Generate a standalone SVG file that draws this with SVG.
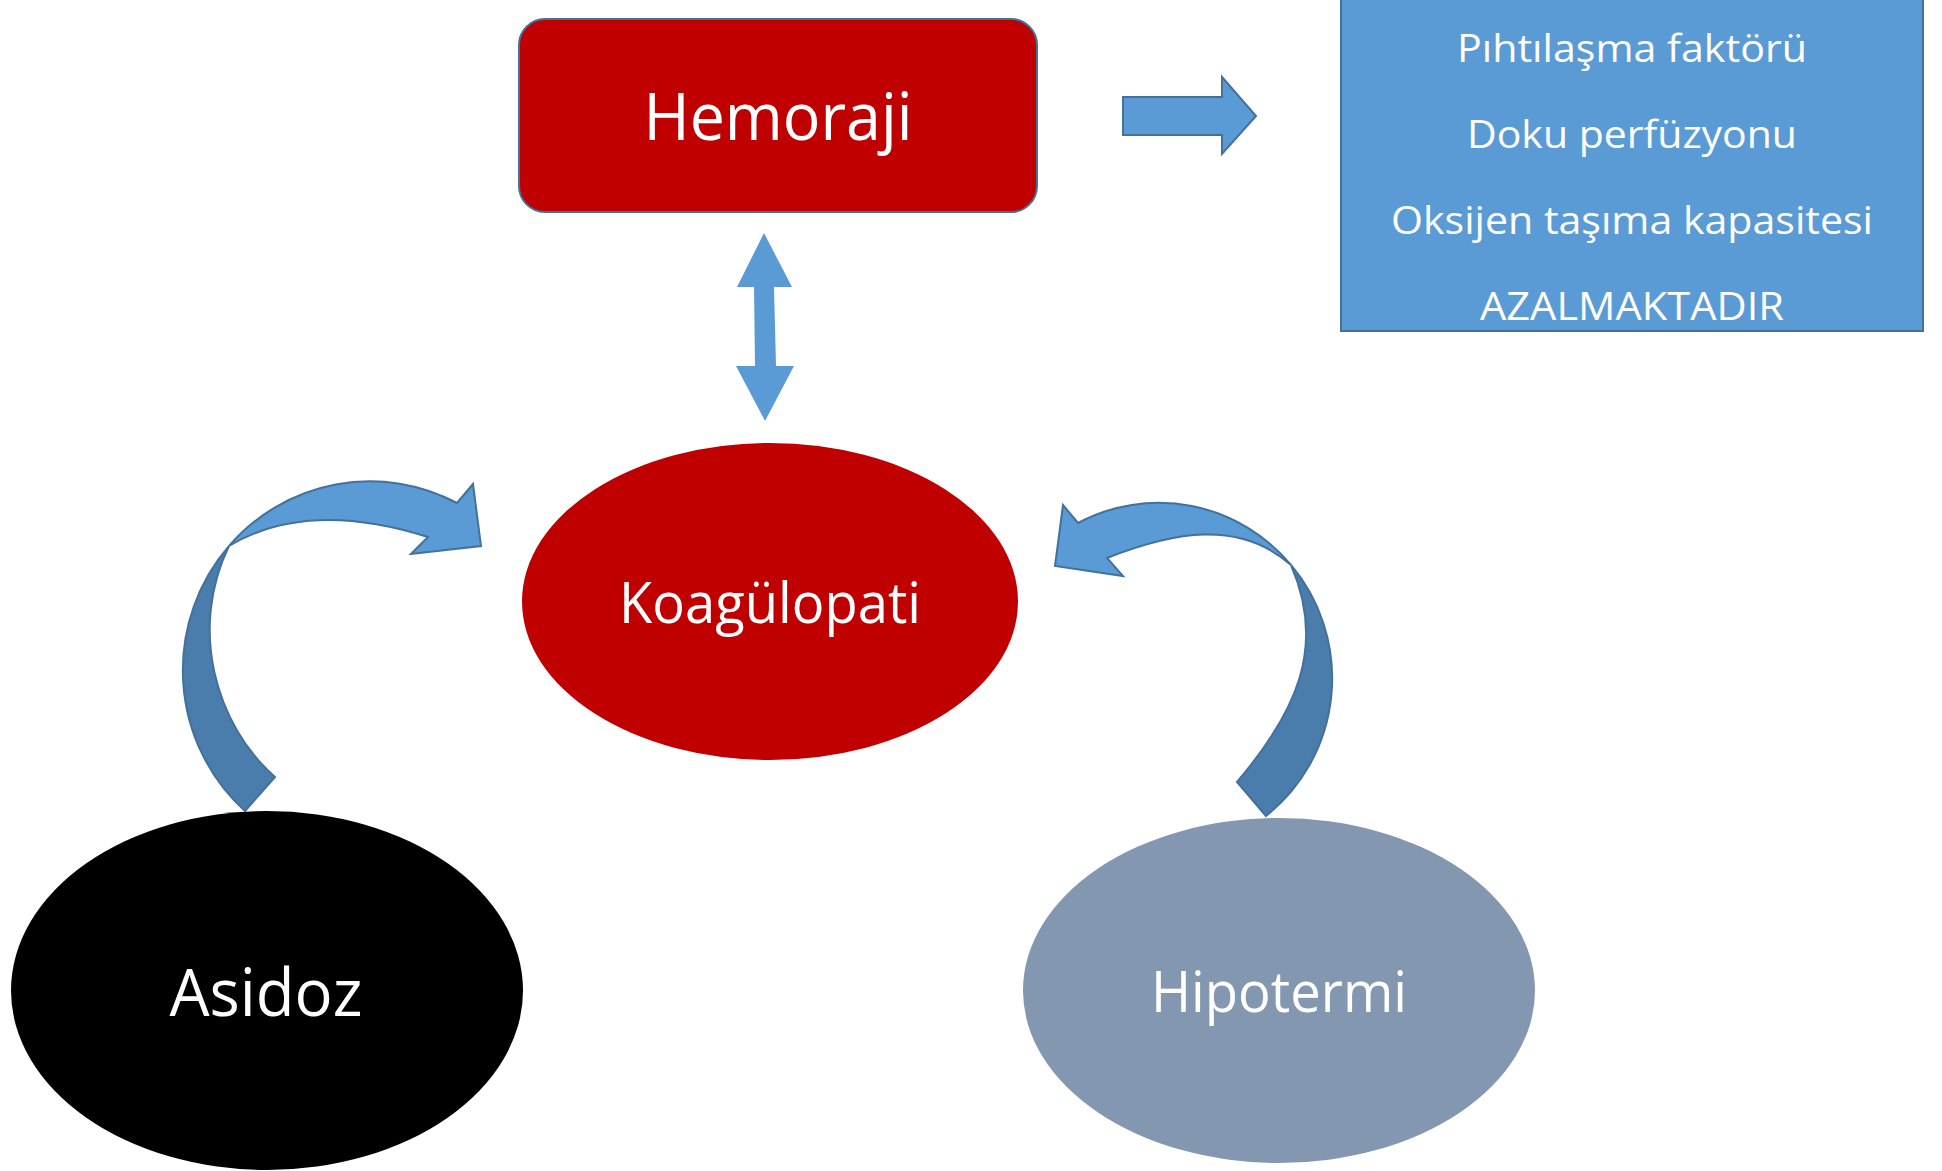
<svg xmlns="http://www.w3.org/2000/svg" width="1942" height="1171" viewBox="0 0 1942 1171">
<style>
.lbl{font-family:"Open Sans","Liberation Sans",sans-serif;fill:#FFFFFF;text-anchor:middle}
.big{font-size:66px}
.mid{font-size:57px}
.sm{font-size:39px}
.blue{fill:#5B9BD5}
.dark{fill:#4A7DAB}
.edge{stroke:#41719C;stroke-width:2;stroke-linejoin:miter}
</style>
<rect width="1942" height="1171" fill="#FFFFFF"/>
<g id="connectors">
  <polygon id="arrow-hemoraji-box" class="blue edge" points="1123,97 1222,97 1222,77 1256,116 1222,154 1222,135 1123,135"/>
  <polygon id="arrow-hemoraji-koagulopati" class="blue" points="764,233 792,287 774,287 776,366 794,366 765,421 736,366 755,366 754,287 737,287"/>
  <g id="arrow-asidoz-koagulopati">
    <path class="dark edge" d="M245,811 A187,189 0 0 1 229,546 C188.8,628.2 215,724.2 275,777 Z"/>
    <path class="blue edge" d="M229,546 A187,189 0 0 1 457,503 L473,484 L481,546 L411,554 L428,537 C361.5,516 289,510 229,546 Z"/>
  </g>
  <g id="arrow-hipotermi-koagulopati">
    <path class="dark edge" d="M1266,816 A173,175 0 0 0 1291,565 C1327,647.8 1295.2,713.3 1237,782 Z"/>
    <path class="blue edge" d="M1291,565 A173,175 0 0 0 1078,523 L1063,505 L1055,566 L1123,576 L1107,558 C1172.4,532.5 1238.5,518.8 1291,565 Z"/>
  </g>
</g>
<g id="hemoraji">
  <rect x="519" y="19" width="518" height="193" rx="26" ry="26" fill="#C00000" class="edge"/>
  <text class="lbl big" x="778" y="140" textLength="269" lengthAdjust="spacingAndGlyphs">Hemoraji</text>
</g>
<g id="effects">
  <rect x="1341" y="-1" width="582" height="332" fill="#5B9BD5" class="edge"/>
  <text class="lbl sm" x="1632" y="62" textLength="350" lengthAdjust="spacingAndGlyphs">Pıhtılaşma faktörü</text>
  <text class="lbl sm" x="1632" y="148" textLength="330" lengthAdjust="spacingAndGlyphs">Doku perfüzyonu</text>
  <text class="lbl sm" x="1632" y="234" textLength="482" lengthAdjust="spacingAndGlyphs">Oksijen taşıma kapasitesi</text>
  <text class="lbl sm" x="1632" y="320" textLength="304" lengthAdjust="spacingAndGlyphs">AZALMAKTADIR</text>
</g>
<g id="koagulopati">
  <ellipse cx="770" cy="601.5" rx="248" ry="158.5" fill="#C00000"/>
  <text class="lbl mid" x="770" y="623" textLength="302" lengthAdjust="spacingAndGlyphs">Koagülopati</text>
</g>
<g id="asidoz">
  <ellipse cx="267" cy="990.5" rx="256" ry="179.5" fill="#000000"/>
  <text class="lbl big" x="266" y="1016" textLength="193" lengthAdjust="spacingAndGlyphs">Asidoz</text>
</g>
<g id="hipotermi">
  <ellipse cx="1279" cy="990.5" rx="256" ry="172.5" fill="#8497B0"/>
  <text class="lbl mid" x="1279" y="1012" textLength="256" lengthAdjust="spacingAndGlyphs">Hipotermi</text>
</g>
</svg>
